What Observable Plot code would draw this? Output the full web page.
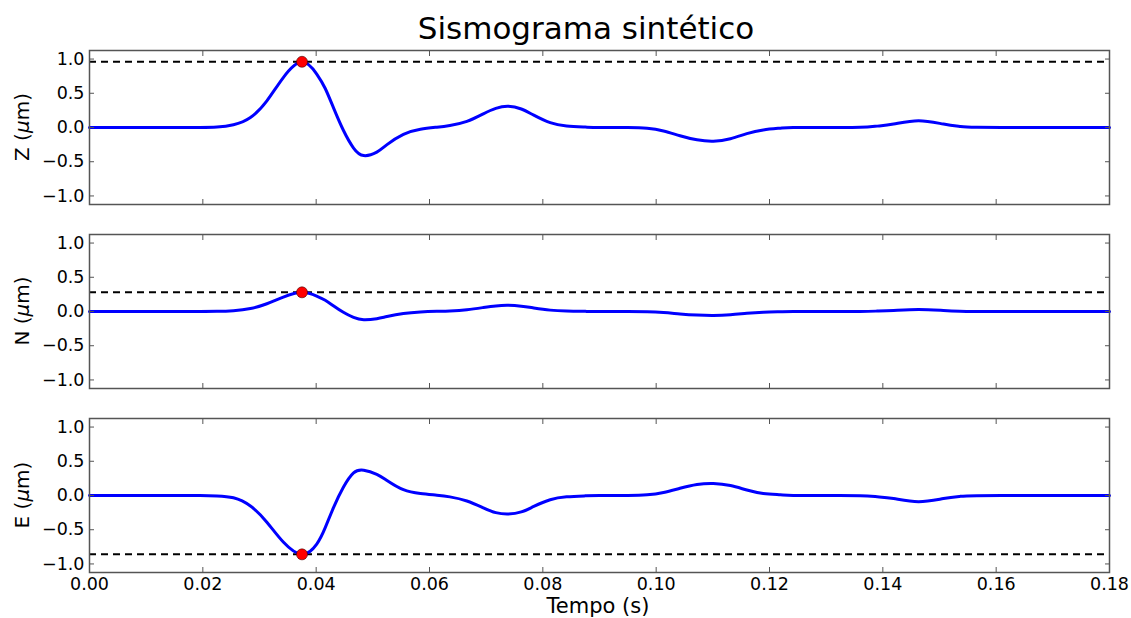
<!DOCTYPE html>
<html><head><meta charset="utf-8">
<script src="https://cdn.jsdelivr.net/npm/d3@7"></script>
<script src="https://cdn.jsdelivr.net/npm/@observablehq/plot@0.6"></script>
<style>
body{margin:0;background:#fff;font-family:"DejaVu Sans",sans-serif;}
#root{position:relative;width:1131px;height:618px;overflow:hidden;background:#fff}
.panel{position:absolute;left:0}
.title{position:absolute;left:586px;top:13px;transform:translateX(-50%);font-size:31px;line-height:31px;white-space:nowrap;color:#000}
.xlabel{position:absolute;left:598px;top:596px;transform:translateX(-50%);font-size:21px;line-height:21px;white-space:nowrap;color:#000}
.ylabel{position:absolute;font-size:20px;line-height:20px;white-space:nowrap;color:#000;transform:translate(-50%,-50%) rotate(-90deg)}
</style></head><body><div id="root"></div>
<script>
// ---- data ----
const title = "Sismograma sintético";
const xLabel = "Tempo (s)";
const components = ["Z", "N", "E"];
const time = [0, 0.005, 0.01, 0.015, 0.0195, 0.0225, 0.0254, 0.0284, 0.0313, 0.0342,
  0.0375, 0.0401, 0.0416, 0.0431, 0.0448, 0.0466, 0.0484, 0.0507, 0.0525, 0.0554,
  0.0584, 0.0613, 0.0636, 0.0666, 0.0695, 0.0717, 0.0739, 0.0762, 0.0784, 0.0813,
  0.0842, 0.0875, 0.09, 0.095, 0.0984, 0.1013, 0.1042, 0.1072, 0.1101, 0.1131,
  0.116, 0.1189, 0.1219, 0.1242, 0.13, 0.136, 0.139, 0.1419, 0.1463, 0.1507,
  0.1536, 0.1566, 0.165, 0.17, 0.18];
const zValues = [0, 0, 0, 0, 0, 0.006, 0.04, 0.146, 0.39, 0.73,
  0.96, 0.78, 0.57, 0.28, -0.04, -0.30, -0.41, -0.36, -0.25, -0.10,
  -0.025, 0.005, 0.03, 0.09, 0.20, 0.28, 0.31, 0.27, 0.18, 0.07,
  0.022, 0.006, 0, 0, -0.01, -0.05, -0.12, -0.18, -0.20, -0.165,
  -0.09, -0.035, -0.01, 0, 0, 0.002, 0.02, 0.05, 0.10, 0.05,
  0.015, 0.003, 0, 0, 0];
const nValues = [0, 0, 0, 0, 0, 0.002, 0.012, 0.043, 0.113, 0.21,
  0.28, 0.225, 0.165, 0.08, -0.012, -0.087, -0.12, -0.105, -0.074, -0.03,
  -0.008, 0.002, 0.009, 0.026, 0.058, 0.082, 0.09, 0.078, 0.052, 0.02,
  0.007, 0.002, 0, 0, -0.003, -0.015, -0.035, -0.052, -0.058, -0.048,
  -0.026, -0.01, -0.003, 0, 0, 0.001, 0.006, 0.015, 0.029, 0.015,
  0.004, 0.001, 0, 0, 0];
const eValues = [0, 0, 0, 0, 0, -0.006, -0.034, -0.154, -0.39, -0.68,
  -0.86, -0.71, -0.47, -0.17, 0.12, 0.33, 0.37, 0.31, 0.22, 0.085,
  0.03, 0.005, -0.02, -0.08, -0.18, -0.25, -0.27, -0.24, -0.16, -0.062,
  -0.02, -0.005, 0, 0, 0.01, 0.045, 0.105, 0.16, 0.175, 0.145,
  0.08, 0.03, 0.01, 0, 0, -0.002, -0.018, -0.045, -0.09, -0.045,
  -0.013, -0.003, 0, 0, 0];
const peakTime = [0.0375, 0.0375, 0.0375];
const peakValue = [0.96, 0.28, -0.86];
const xTicks = [0, 0.02, 0.04, 0.06, 0.08, 0.10, 0.12, 0.14, 0.16, 0.18];
const yTicks = [-1, -0.5, 0, 0.5, 1];

// ---- layout ----
const W = 1131, mL = 89, mR = 22, panelH = 154;
const panelTops = [50, 234, 418];
const series = [zValues, nValues, eValues];
const root = document.getElementById("root");

const t = document.createElement("div");
t.className = "title"; t.textContent = title; root.appendChild(t);

components.forEach((c, i) => {
  const last = i === components.length - 1;
  const rows = time.map((x, k) => ({t: x, v: series[i][k]}));
  const mT = 10, mB = last ? 40 : 10;
  const frameColor = "#555";
  const marks = [
    Plot.ruleY([peakValue[i]], {stroke: "black", strokeWidth: 2, strokeDasharray: "7,5"}),
    Plot.line(rows, {x: "t", y: "v", stroke: "#0000ff", strokeWidth: 3, curve: "natural"}),
    Plot.dot([{t: peakTime[i], v: peakValue[i]}], {x: "t", y: "v", r: 5.5, fill: "#ff0000", stroke: "#400000", strokeWidth: 0.6}),
    Plot.axisY(yTicks, {anchor: "left", tickSize: 0, tickPadding: 5, tickFormat: d3.format(".1f"), label: null, fill: "#000"}),
    Plot.axisY(yTicks, {anchor: "left", tickSize: -5, fill: "none", stroke: frameColor, label: null}),
    Plot.axisY(yTicks, {anchor: "right", tickSize: -5, fill: "none", stroke: frameColor, label: null}),
    Plot.axisX(xTicks, {anchor: "top", tickSize: -5, fill: "none", stroke: frameColor, label: null}),
    Plot.axisX(xTicks, {anchor: "bottom", tickSize: -5, fill: "none", stroke: frameColor, label: null}),
    Plot.frame({stroke: frameColor, strokeWidth: 1.5})
  ];
  if (last) marks.push(Plot.axisX(xTicks, {anchor: "bottom", tickSize: 0, tickPadding: 5, tickFormat: d3.format(".2f"), label: null, fill: "#000"}));
  const svg = Plot.plot({
    width: W, height: panelH + mT + mB,
    marginLeft: mL, marginRight: mR, marginTop: mT, marginBottom: mB,
    style: {fontFamily: "DejaVu Sans", fontSize: "17.5px", color: "#000", background: "transparent", overflow: "visible"},
    x: {domain: [0, 0.18], label: null},
    y: {domain: [-1.125, 1.125], label: null},
    marks
  });
  const wrap = document.createElement("div");
  wrap.className = "panel";
  wrap.style.top = (panelTops[i] - mT) + "px";
  wrap.appendChild(svg);
  root.appendChild(wrap);

  const yl = document.createElement("div");
  yl.className = "ylabel";
  yl.style.left = "21.5px";
  yl.style.top = (panelTops[i] + panelH / 2) + "px";
  yl.innerHTML = c + " (<i>μ</i>m)";
  root.appendChild(yl);
});

const xl = document.createElement("div");
xl.className = "xlabel"; xl.textContent = xLabel; root.appendChild(xl);
</script></body></html>
